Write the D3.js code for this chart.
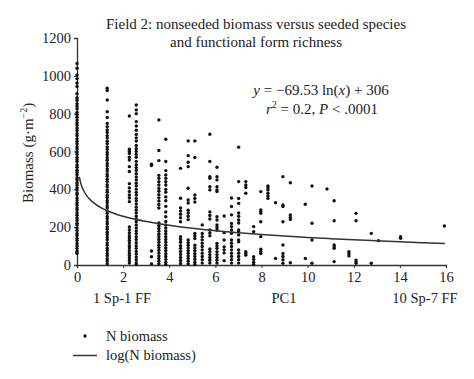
<!DOCTYPE html>
<html>
<head>
<meta charset="utf-8">
<script src="https://cdn.jsdelivr.net/npm/d3@7"></script>
<style>
  html, body { margin: 0; padding: 0; background: #fff; }
  svg text { font-family: "Liberation Serif", "DejaVu Serif", serif; fill: #222; }
</style>
</head>
<body>
<div id="chart"></div>
<script>
// PC1 positions of the sample columns
const pcPositions = [0, 1.31, 2.27, 2.57, 3.23, 3.55, 3.85, 4.49, 4.82, 5.11, 5.43, 5.76, 6.07, 6.38, 6.7, 7.01, 7.32, 7.66, 7.97, 8.28, 8.61, 8.93, 9.25, 9.9, 10.19, 10.84, 11.15, 11.79, 12.1, 12.76, 13.07, 14.03, 15.93];

// nonseeded biomass (g/m2) read per column
const biomassByPosition = [
  [1065, 1040, 1005, 985, 962, 944, 905, 884, 871, 853, 840, 826, 806, 795, 781, 766, 752, 740, 724, 711, 694, 683, 667, 654, 641, 625, 613, 597, 586, 569, 557, 546, 529, 517, 501, 489, 477, 461, 451, 435, 423, 409, 397, 381, 371, 355, 343, 329, 317, 301, 291, 275, 263, 249, 237, 221, 211, 195, 183, 167, 156, 141, 129, 114, 101, 87, 73, 62],
  [935, 922, 872, 810, 780, 748, 731, 714, 701, 684, 671, 654, 641, 624, 611, 595, 583, 567, 554, 537, 525, 509, 497, 481, 469, 453, 441, 425, 413, 397, 385, 369, 357, 341, 329, 313, 301, 285, 273, 257, 245, 229, 217, 201, 189, 173, 161, 145, 133, 117, 105, 89, 77, 61, 49, 33, 21, 7],
  [788, 612, 600, 590, 570, 555, 520, 494, 430, 407, 388, 370, 354, 335, 201, 185, 169, 155, 143, 130, 116, 102, 90, 76, 63, 50, 37, 24, 10],
  [846, 820, 800, 758, 735, 712, 690, 672, 655, 632, 615, 600, 585, 570, 548, 530, 515, 500, 482, 465, 450, 432, 418, 400, 384, 370, 352, 338, 322, 305, 290, 275, 258, 242, 228, 212, 196, 180, 166, 150, 135, 118, 102, 88, 72, 58, 42, 28, 12, 2],
  [533, 526, 74, 44, 5],
  [767, 605, 552, 474, 458, 440, 423, 405, 390, 372, 355, 338, 320, 301, 222, 208, 193, 178, 163, 150, 135, 120, 105, 92, 78, 63, 48, 34, 20, 6],
  [665, 547, 499, 476, 458, 440, 423, 400, 385, 360, 340, 310, 280, 255, 230, 212, 196, 180, 165, 150, 135, 120, 105, 90, 75, 60, 45, 30, 15, 3],
  [511, 353, 301, 285, 268, 250, 229, 150, 135, 120, 102, 88, 72, 56, 40, 24, 8],
  [656, 578, 543, 520, 406, 344, 328, 290, 275, 258, 240, 132, 118, 104, 90, 76, 62, 48, 34, 20, 6],
  [656, 568, 370, 352, 333, 167, 154, 140, 105, 90, 75, 60, 45, 30, 15, 3],
  [212, 167, 150, 133, 115, 98, 80, 62, 45, 28, 10],
  [691, 547, 467, 458, 414, 397, 280, 262, 243, 185, 170, 155, 85, 70, 55, 40, 25, 10],
  [517, 467, 450, 414, 397, 388, 255, 238, 212, 198, 185, 114, 100, 88, 70, 55, 40, 25, 10],
  [259, 171, 132, 96, 80, 64, 23],
  [354, 309, 265, 220, 203, 185, 168, 132, 115, 98, 80, 62, 45, 28, 10],
  [623, 441, 352, 326, 275, 258, 238, 222, 185, 176, 159, 132, 123, 79, 62, 45, 28, 10],
  [441, 423, 410, 379, 70, 61, 52],
  [203, 176, 44, 30, 15, 3],
  [388, 291, 282, 273, 229, 150, 83, 72, 61],
  [418, 408, 397, 379, 365, 352],
  [329, 35],
  [467, 317, 309, 229, 106, 61, 45, 28, 9],
  [435, 264, 252, 241, 12],
  [321, 35],
  [418, 221, 132, 9],
  [402],
  [340, 234, 106, 97, 88, 18],
  [70, 59, 48],
  [273, 234, 26, 17, 9],
  [167, 9],
  [129],
  [150, 141],
  [206]
];

// fitted curve y = a ln(x) + b
const fitA = -69.53;
const fitB = 306;
const fitX = [0.1, 0.15, 0.2, 0.3, 0.4, 0.5, 0.7, 1, 1.5, 2, 3, 4, 5, 6, 7, 8, 9, 10, 11, 12, 13, 14, 15, 15.95];

const xTicks = [0, 2, 4, 6, 8, 10, 12, 14, 16];
const yTicks = [0, 200, 400, 600, 800, 1000, 1200];

const W = 474, H = 379;
const SERIF = '"Liberation Serif", "DejaVu Serif", serif';
const svg = d3.select('#chart').append('svg')
  .attr('width', W).attr('height', H);

const x = d3.scaleLinear().domain([0, 16]).range([77, 446]);
const y = d3.scaleLinear().domain([0, 1200]).range([265, 38]);

// title
svg.append('text')
  .attr('x', 256).attr('y', 29)
  .attr('text-anchor', 'middle')
  .attr('font-size', '15px')
  .text('Field 2: nonseeded biomass versus seeded species');
svg.append('text')
  .attr('x', 256).attr('y', 47)
  .attr('text-anchor', 'middle')
  .attr('font-size', '15px')
  .text('and functional form richness');

// axes
const xAxis = svg.append('g')
  .attr('transform', `translate(0,${y(0)})`)
  .call(d3.axisBottom(x).tickValues(xTicks).tickFormat(d3.format('d')).tickSize(3).tickPadding(4));
const yAxis = svg.append('g')
  .attr('transform', `translate(${x(0)},0)`)
  .call(d3.axisLeft(y).tickValues(yTicks).tickFormat(d3.format('d')).tickSize(3).tickPadding(3));

[xAxis, yAxis].forEach(g => {
  g.attr('font-family', null).attr('font-size', null);
  g.select('.domain').attr('stroke', '#333').attr('stroke-width', 1.3);
  g.selectAll('.tick line').attr('stroke', '#333');
  g.selectAll('.tick text')
    .style('font-family', SERIF)
    .style('font-size', '14.5px')
    .style('fill', '#222');
});

// points
const points = [];
pcPositions.forEach((px, i) => {
  biomassByPosition[i].forEach(v => points.push({ pc: px, biomass: v }));
});

svg.append('g')
  .selectAll('circle')
  .data(points)
  .enter()
  .append('circle')
  .attr('cx', d => x(d.pc))
  .attr('cy', d => y(d.biomass))
  .attr('r', 1.7)
  .attr('fill', '#111');

// log fit line
const line = d3.line()
  .x(d => x(d))
  .y(d => y(fitA * Math.log(d) + fitB))
  .curve(d3.curveMonotoneX);

svg.append('path')
  .datum(fitX)
  .attr('d', line)
  .attr('fill', 'none')
  .attr('stroke', '#333')
  .attr('stroke-width', 1.5);

// equation
const eq1 = svg.append('text')
  .attr('x', 321).attr('y', 95)
  .attr('text-anchor', 'middle')
  .attr('font-size', '15px');
eq1.append('tspan').attr('font-style', 'italic').text('y');
eq1.append('tspan').text(' = \u221269.53 ln(');
eq1.append('tspan').attr('font-style', 'italic').text('x');
eq1.append('tspan').text(') + 306');

const eq2 = svg.append('text')
  .attr('x', 322).attr('y', 114)
  .attr('text-anchor', 'middle')
  .attr('font-size', '15px');
eq2.append('tspan').attr('font-style', 'italic').text('r');
eq2.append('tspan').attr('font-size', '10px').attr('dy', -6).text('2');
eq2.append('tspan').attr('dy', 6).text(' = 0.2, ');
eq2.append('tspan').attr('font-style', 'italic').text('P');
eq2.append('tspan').text(' < .0001');

// y label
const yl = svg.append('text')
  .attr('transform', 'translate(33,203) rotate(-90)')
  .attr('font-size', '15px');
yl.append('tspan').text('Biomass (g\u00b7m');
yl.append('tspan').attr('font-size', '10px').attr('dy', -6).text('\u22122');
yl.append('tspan').attr('dy', 6).text(')');

// x labels below ticks
[['1 Sp-1 FF', 122], ['PC1', 284], ['10 Sp-7 FF', 425]].forEach(([t, px]) => {
  svg.append('text')
    .attr('x', px).attr('y', 303)
    .attr('text-anchor', 'middle')
    .attr('font-size', '14.5px')
    .text(t);
});

// legend
svg.append('circle').attr('cx', 85).attr('cy', 336).attr('r', 1.7).attr('fill', '#111');
svg.append('text').attr('x', 106).attr('y', 341).attr('font-size', '14.5px').text('N biomass');
svg.append('line')
  .attr('x1', 73).attr('x2', 97).attr('y1', 355.5).attr('y2', 355.5)
  .attr('stroke', '#333').attr('stroke-width', 1.5);
svg.append('text').attr('x', 106).attr('y', 360).attr('font-size', '14.5px').text('log(N biomass)');
</script>
</body>
</html>
